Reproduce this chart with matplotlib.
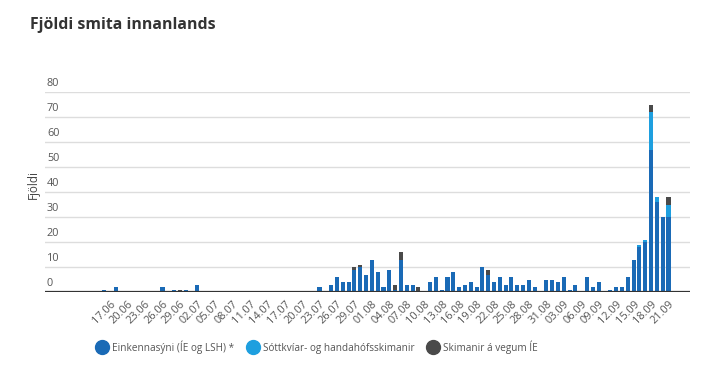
import pandas as pd
import matplotlib
matplotlib.use("Agg")
import matplotlib.pyplot as plt
from matplotlib.lines import Line2D

plt.rcParams['font.family'] = ['Open Sans', 'DejaVu Sans']

# one entry per day, 16.06 - 21.09
days = pd.date_range('2020-06-16', '2020-09-21', freq='D')

einkenna = [
    # June 16-30
    1, 0, 2, 0, 0, 0, 0, 0, 0, 0, 2, 0, 1, 0, 1,
    # July 1-31
    0, 3, 0, 0, 0, 0, 0, 0, 0, 0, 0, 0, 0, 0, 0, 0, 0, 0, 0, 0, 0, 0,
    2, 0, 3, 6, 4, 4, 9, 10, 7,
    # August 1-31
    13, 8, 2, 9, 1, 13, 3, 3, 0, 0, 4, 6, 1, 6, 8, 2, 3, 4, 2, 10,
    7, 4, 6, 3, 6, 3, 3, 5, 2, 0, 5,
    # September 1-21
    5, 4, 6, 1, 3, 0, 6, 2, 4, 0, 1, 2, 2, 6, 13, 18, 20, 57, 36, 30, 30,
]
# quarantine / random screening, only in the last week
sottkvi_days = {'2020-09-16': 1, '2020-09-17': 1, '2020-09-18': 15,
                '2020-09-19': 2, '2020-09-21': 5}
# deCODE (IE) screening
ie_days = {'2020-06-29': 1, '2020-07-29': 1, '2020-07-30': 1, '2020-08-05': 2,
           '2020-08-06': 3, '2020-08-09': 2, '2020-08-21': 2,
           '2020-09-18': 3, '2020-09-21': 3}

sottkvi = [0] * len(days)
ie = [0] * len(days)
for d, v in sottkvi_days.items():
    sottkvi[days.get_loc(pd.Timestamp(d))] = v
for d, v in ie_days.items():
    ie[days.get_loc(pd.Timestamp(d))] = v
# 29.06 and 09.08 were only IE samples
einkenna[days.get_loc(pd.Timestamp('2020-06-29'))] = 0
einkenna[days.get_loc(pd.Timestamp('2020-08-09'))] = 0

labels = [d.strftime('%d.%m') for d in days]

c_blue = '#1a6ab6'
c_light = '#1e9fdf'
c_dark = '#4a4a4a'

fig = plt.figure(figsize=(7.13, 3.71), dpi=100)
ax = fig.add_axes([45 / 713, 1 - 292 / 371, 645 / 713, 200 / 371])

x = list(range(len(days)))
bottom2 = [a + b for a, b in zip(einkenna, sottkvi)]
ax.bar(x, einkenna, width=0.7, color=c_blue, zorder=3)
ax.bar(x, sottkvi, width=0.7, bottom=einkenna, color=c_light, zorder=3)
ax.bar(x, ie, width=0.7, bottom=bottom2, color=c_dark, zorder=3)

ax.set_xlim(-10.2, 100.7)
ax.set_ylim(0, 80)

for s in ax.spines.values():
    s.set_visible(False)
ax.axhline(0, color='#333333', lw=1.6, zorder=4)
for v in range(10, 90, 10):
    ax.axhline(v, color='#dddddd', lw=1, zorder=1)

ax.set_yticks([])
for v in range(0, 90, 10):
    ax.text(0.003, v + 1.3, str(v), transform=ax.get_yaxis_transform(),
            fontsize=7.8, color='#555555', va='bottom', ha='left')

ticks = x[1::3]
ax.set_xticks(ticks)
ax.set_xticklabels([labels[i] for i in ticks], rotation=45, ha='right',
                   rotation_mode='anchor', fontsize=7.9, color='#555555')
ax.tick_params(axis='x', length=0, pad=5)

fig.text(33 / 713, 1 - 185 / 371, 'Fjöldi', rotation=90, fontsize=8.5,
         color='#444444', ha='center', va='center')

fig.text(30 / 713, 1 - 25 / 371, 'Fjöldi smita innanlands', fontsize=11.4,
         fontweight='bold', color='#333333', ha='left', va='center')

handles = [Line2D([], [], marker='o', ls='', markersize=10, color=c)
           for c in (c_blue, c_light, c_dark)]
fig.legend(handles, ['Einkennasýni (ÍE og LSH) *', 'Sóttkvíar- og handahófsskimanir',
                     'Skimanir á vegum ÍE'],
           loc='center', bbox_to_anchor=(317 / 713, 1 - 347 / 371), ncol=3,
           frameon=False, fontsize=7.2, handletextpad=0.45, columnspacing=1.2,
           labelcolor='#555555', handlelength=1.2)

fig.savefig('out.png', dpi=100)
